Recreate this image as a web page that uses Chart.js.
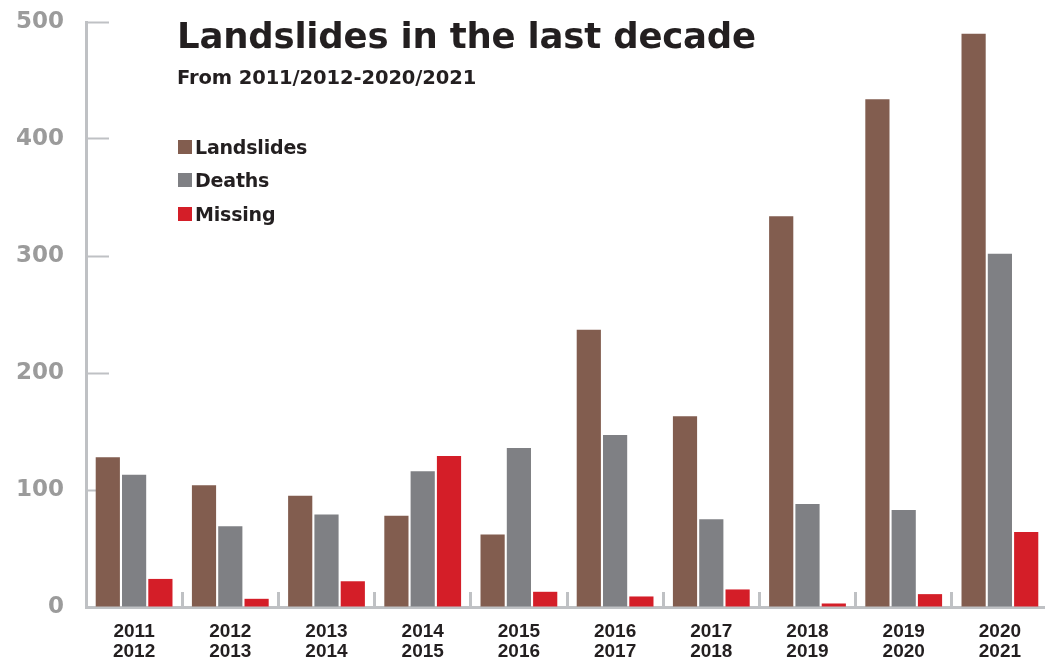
<!DOCTYPE html>
<html>
<head>
<meta charset="utf-8">
<script src="https://cdn.jsdelivr.net/npm/chart.js@4/dist/chart.umd.min.js"></script>
<style>
  html, body { margin: 0; padding: 0; background: #ffffff; overflow: hidden; width: 1045px; height: 661px; }
  #wrap { position: absolute; left: 0; top: 0; width: 1048px; height: 661px; }
  #c { position: absolute; left: 0; top: 0; }
  .txt { position: absolute; white-space: nowrap; font-family: "DejaVu Sans", sans-serif; font-weight: bold; color: #231f20; }
  #title { left: 177px; top: 18px; font-size: 35.5px; line-height: 35.5px; letter-spacing: -0.2px; }
  #subtitle { left: 177px; top: 68px; font-size: 19.5px; line-height: 19.5px; letter-spacing: -0.1px; }
  .leg { position: absolute; left: 178px; height: 20px; }
  .leg .sw { position: absolute; left: 0; top: 2px; width: 14px; height: 14px; }
  .leg .lb { position: absolute; left: 17px; top: 0; font-family: "DejaVu Sans", sans-serif; font-weight: bold; font-size: 19px; line-height: 19px; color: #231f20; white-space: nowrap; letter-spacing: -0.2px; }
</style>
</head>
<body>
<div id="wrap">
  <canvas id="c" width="1048" height="661"></canvas>
  <div id="title" class="txt"></div>
  <div id="subtitle" class="txt"></div>
  <div id="legend"></div>
</div>
<script>
const titleText = "Landslides in the last decade";
const subtitleText = "From 2011/2012-2020/2021";
const categories = [
  ["2011", "2012"], ["2012", "2013"], ["2013", "2014"], ["2014", "2015"], ["2015", "2016"],
  ["2016", "2017"], ["2017", "2018"], ["2018", "2019"], ["2019", "2020"], ["2020", "2021"]
];
const seriesNames = ["Landslides", "Deaths", "Missing"];
const seriesColors = ["#825d4f", "#7f8084", "#d41e28"];
const landslides = [128, 104, 95, 78, 62, 237, 163, 334, 434, 490];
const deaths = [113, 69, 79, 116, 136, 147, 75, 88, 83, 302];
const missing = [24, 7, 22, 129, 13, 9, 15, 3, 11, 64];
const yTicks = [0, 100, 200, 300, 400, 500];

document.getElementById('title').textContent = titleText;
document.getElementById('subtitle').textContent = subtitleText;
const legendTops = [138, 171, 205];
const legEl = document.getElementById('legend');
seriesNames.forEach((n, i) => {
  const d = document.createElement('div');
  d.className = 'leg';
  d.style.top = legendTops[i] + 'px';
  d.innerHTML = '<div class="sw" style="background:' + seriesColors[i] + '"></div><div class="lb"></div>';
  d.querySelector('.lb').textContent = n;
  legEl.appendChild(d);
});

const seriesData = [landslides, deaths, missing];
const axisColor = '#bfc1c4';

new Chart(document.getElementById('c'), {
  type: 'bar',
  data: {
    labels: categories,
    datasets: seriesNames.map((n, i) => ({
      label: n,
      data: seriesData[i],
      backgroundColor: seriesColors[i],
      borderWidth: 0,
      barPercentage: 0.92,
      categoryPercentage: 0.82
    }))
  },
  options: {
    responsive: false,
    devicePixelRatio: 1,
    animation: false,
    layout: { padding: { top: 22, left: 0, right: 0, bottom: 0 } },
    plugins: {
      legend: { display: false },
      title: { display: false },
      tooltip: { enabled: false }
    },
    scales: {
      x: {
        offset: true,
        border: { display: true, color: axisColor, width: 3 },
        grid: {
          offset: true,
          drawOnChartArea: false,
          drawTicks: true,
          tickLength: -15,
          tickWidth: 3,
          tickColor: axisColor,
          color: axisColor
        },
        ticks: {
          color: '#231f20',
          padding: 30,
          maxRotation: 0,
          autoSkip: false,
          font: { family: '"Liberation Sans", Arial, sans-serif', weight: 'bold', size: 19, lineHeight: 1.05 }
        },
        afterFit: (s) => { s.height = 54; s.paddingLeft = 0; s.paddingRight = 0; }
      },
      y: {
        min: 0,
        max: 500,
        border: { display: true, color: axisColor, width: 3 },
        grid: {
          drawOnChartArea: false,
          drawTicks: true,
          tickLength: -23,
          tickWidth: 2,
          tickColor: axisColor,
          color: axisColor
        },
        afterBuildTicks: (s) => { s.ticks = yTicks.map(v => ({ value: v })); },
        ticks: {
          color: '#9b9b9b',
          padding: 45,
          font: { family: '"DejaVu Sans", sans-serif', weight: 'bold', size: 23 }
        },
        afterFit: (s) => { s.width = 86; s.paddingTop = 0; s.paddingBottom = 0; }
      }
    }
  }
});
</script>
</body>
</html>
